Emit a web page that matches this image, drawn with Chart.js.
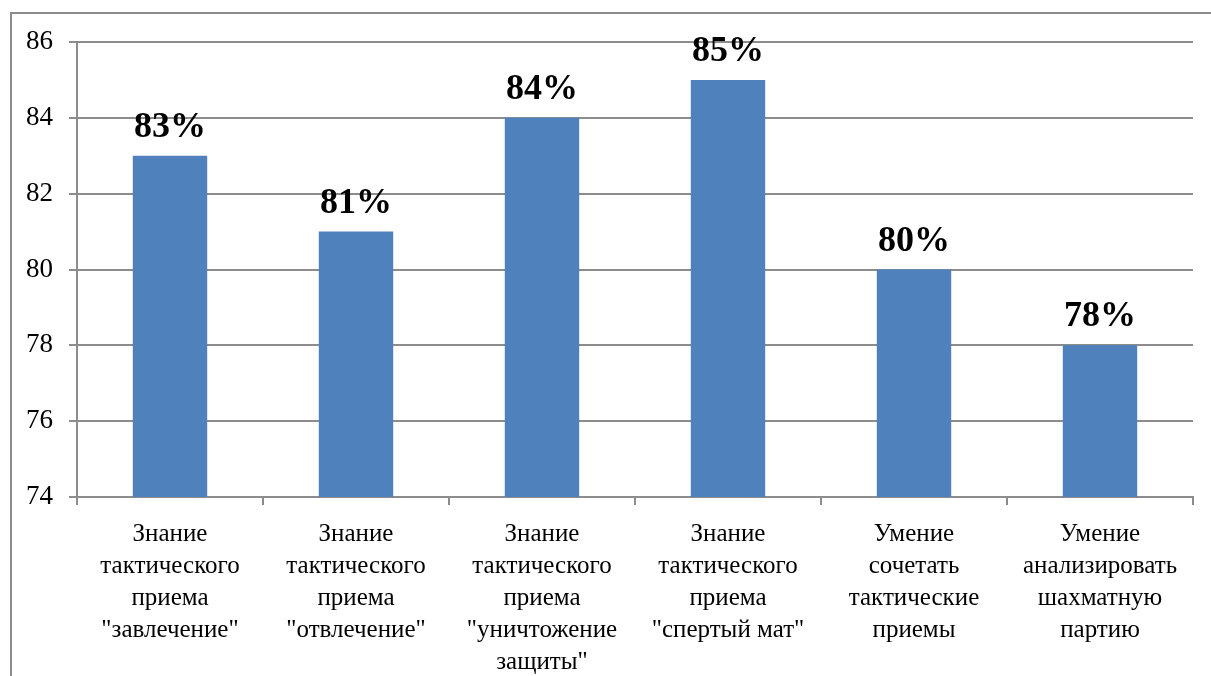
<!DOCTYPE html>
<html>
<head>
<meta charset="utf-8">
<script src="https://cdn.jsdelivr.net/npm/chart.js@4"></script>
<style>
html,body{margin:0;padding:0;background:#fff;}
#wrap{width:1211px;height:676px;position:relative;}
</style>
</head>
<body>
<div id="wrap"><canvas id="c" width="1211" height="676"></canvas></div>
<script>
const categories = [
  ["Знание", "тактического", "приема", "\"завлечение\""],
  ["Знание", "тактического", "приема", "\"отвлечение\""],
  ["Знание", "тактического", "приема", "\"уничтожение", "защиты\""],
  ["Знание", "тактического", "приема", "\"спертый мат\""],
  ["Умение", "сочетать", "тактические", "приемы"],
  ["Умение", "анализировать", "шахматную", "партию"]
];
const values = [83, 81, 84, 85, 80, 78];
const yMin = 74, yMax = 86, yStep = 2;

const SERIF = '"Liberation Serif", "Times New Roman", serif';

const framePlugin = {
  id: 'frame',
  beforeDraw(chart) {
    const ctx = chart.ctx;
    ctx.save();
    ctx.fillStyle = '#fff';
    ctx.fillRect(0, 0, chart.width, chart.height);
    ctx.strokeStyle = '#8c8c8c';
    ctx.lineWidth = 2;
    ctx.strokeRect(11, 13, chart.width + 20, chart.height + 20);
    ctx.restore();
  }
};

const labelPlugin = {
  id: 'vlabels',
  afterDatasetsDraw(chart) {
    const ctx = chart.ctx;
    const meta = chart.getDatasetMeta(0);
    ctx.save();
    ctx.font = 'bold 36px ' + SERIF;
    ctx.fillStyle = '#000';
    ctx.textAlign = 'center';
    ctx.textBaseline = 'alphabetic';
    meta.data.forEach((bar, i) => {
      ctx.fillText(values[i] + '%', bar.x, bar.y - 19);
    });
    ctx.restore();
  }
};

new Chart(document.getElementById('c'), {
  type: 'bar',
  data: {
    labels: categories,
    datasets: [{
      data: values,
      backgroundColor: '#4F81BD',
      borderWidth: 0,
      barPercentage: 0.4,
      categoryPercentage: 1.0
    }]
  },
  options: {
    responsive: false,
    animation: false,
    devicePixelRatio: 1,
    layout: { padding: { left: 0, top: 42, right: 18, bottom: 0 } },
    plugins: { legend: { display: false }, tooltip: { enabled: false } },
    scales: {
      x: {
        offset: true,
        grid: {
          display: true,
          drawOnChartArea: false,
          offset: true,
          tickLength: 8,
          color: '#8c8c8c',
          lineWidth: 2
        },
        border: { display: true, color: '#8c8c8c', width: 2 },
        ticks: {
          autoSkip: false,
          maxRotation: 0,
          minRotation: 0,
          padding: 13,
          color: '#000',
          font: { family: SERIF, size: 25, lineHeight: 1.28 }
        },
        afterFit(scale) { scale.height = 179; }
      },
      y: {
        min: yMin,
        max: yMax,
        grid: {
          color: '#8c8c8c',
          lineWidth: 2,
          tickLength: 8
        },
        border: { display: true, color: '#8c8c8c', width: 2 },
        ticks: {
          stepSize: yStep,
          padding: 16,
          color: '#000',
          font: { family: SERIF, size: 27 }
        },
        afterFit(scale) { scale.width = 77; }
      }
    }
  },
  plugins: [framePlugin, labelPlugin]
});
</script>
</body>
</html>
